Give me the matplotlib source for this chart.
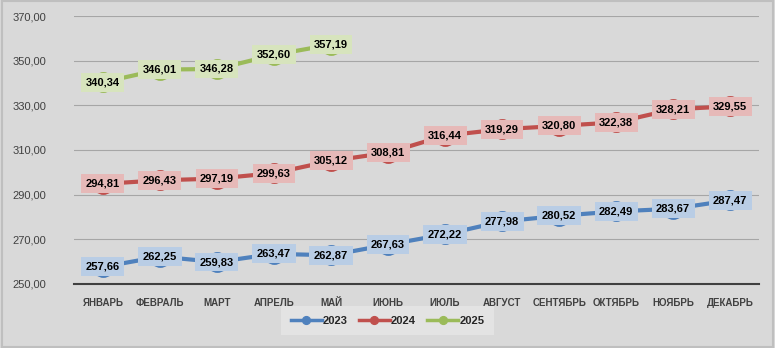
import matplotlib.pyplot as plt
from matplotlib.ticker import FuncFormatter

plt.rcParams['font.family'] = ['Liberation Sans', 'DejaVu Sans']

months = ["ЯНВАРЬ", "ФЕВРАЛЬ", "МАРТ", "АПРЕЛЬ", "МАЙ", "ИЮНЬ", "ИЮЛЬ",
          "АВГУСТ", "СЕНТЯБРЬ", "ОКТЯБРЬ", "НОЯБРЬ", "ДЕКАБРЬ"]
v2023 = [257.66, 262.25, 259.83, 263.47, 262.87, 267.63, 272.22, 277.98,
         280.52, 282.49, 283.67, 287.47]
v2024 = [294.81, 296.43, 297.19, 299.63, 305.12, 308.81, 316.44, 319.29,
         320.80, 322.38, 328.21, 329.55]
v2025 = [340.34, 346.01, 346.28, 352.60, 357.19]

series = [
    ("2023", v2023, "#4f81bd", "#b9cde5"),
    ("2024", v2024, "#c0504d", "#e6b9b8"),
    ("2025", v2025, "#9bbb59", "#d7e4bd"),
]

bg = "#d9d9d9"
fig = plt.figure(figsize=(7.75, 3.48), dpi=100, facecolor=bg)
ax = fig.add_axes([0.096, 0.184, 0.883, 0.77])
ax.set_facecolor(bg)

x = list(range(len(months)))
for name, vals, col, box in series:
    xs = x[:len(vals)]
    ax.plot(xs, vals, color=col, lw=3, marker="o", ms=14, label=name, zorder=3)
    for xi, v in zip(xs, vals):
        ax.text(xi, v, f"{v:.2f}".replace(".", ","), ha="center", va="center",
                fontsize=8, fontweight="bold", color="black", zorder=4,
                bbox=dict(boxstyle="square,pad=0.4", fc=box, ec="none"))

ax.set_xlim(-0.5, 11.5)
ax.set_ylim(250, 370)
ax.set_yticks(range(250, 371, 20))
ax.yaxis.set_major_formatter(FuncFormatter(lambda v, p: f"{v:.2f}".replace(".", ",")))
ax.set_xticks(x)
ax.set_xticklabels(months, fontweight="bold")
ax.tick_params(axis="both", length=0, colors="#404040")
ax.tick_params(axis="x", pad=10, labelsize=7)
ax.tick_params(axis="y", pad=20, labelsize=8)
ax.grid(axis="y", color="#a6a6a6", lw=0.8)
ax.set_axisbelow(True)
for s in ["top", "right", "left"]:
    ax.spines[s].set_visible(False)
ax.spines["bottom"].set_color("#404040")
ax.spines["bottom"].set_linewidth(1.5)

leg = fig.legend(loc="lower center", bbox_to_anchor=(0.5, 0.03), ncol=3,
                 frameon=True, fontsize=8, handlelength=2.8, markerscale=0.4,
                 columnspacing=1.0, handletextpad=0.1, borderpad=0.55)
leg.get_frame().set_facecolor("#e6e6e6")
leg.get_frame().set_edgecolor("none")
leg.get_frame().set_boxstyle("square")
for t in leg.get_texts():
    t.set_fontweight("bold")
    t.set_color("#262626")
for h in leg.legend_handles:
    h.set_linewidth(2.5)

fig.patches.append(plt.Rectangle((0.002, 0.004), 0.996, 0.992, transform=fig.transFigure,
                                 fill=False, ec="#bfbfbf", lw=1.5))
fig.savefig("out.png", dpi=100, facecolor=bg)
